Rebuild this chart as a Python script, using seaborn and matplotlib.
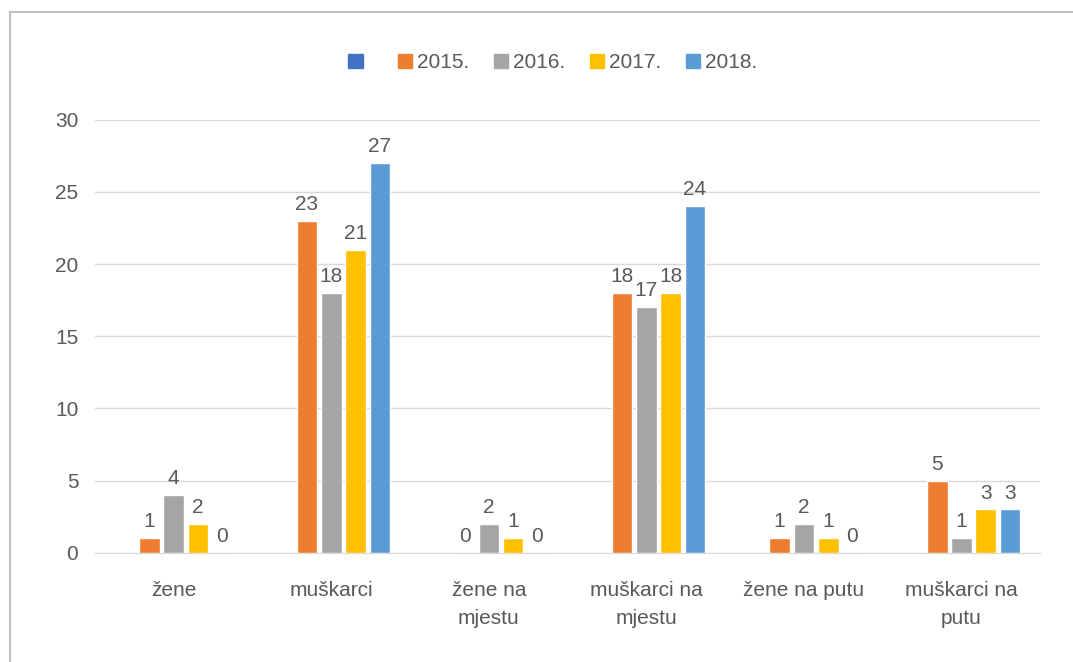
import pandas as pd
import numpy as np
import matplotlib
matplotlib.use("Agg")
import matplotlib.pyplot as plt
from matplotlib.patches import Rectangle
import seaborn as sns

# Podaci s grafikona
kategorije = ["žene", "muškarci", "žene na\nmjestu", "muškarci na\nmjestu",
              "žene na putu", "muškarci na\nputu"]
serije = [" ", "2015.", "2016.", "2017.", "2018."]
prazna = [np.nan, np.nan, np.nan, np.nan, np.nan, np.nan]
god_2015 = [1, 23, 0, 18, 1, 5]
god_2016 = [4, 18, 2, 17, 2, 1]
god_2017 = [2, 21, 1, 18, 1, 3]
god_2018 = [0, 27, 0, 24, 0, 3]
boje = ["#4472C4", "#ED7D31", "#A5A5A5", "#FFC000", "#5B9BD5"]

vrijednosti = [prazna, god_2015, god_2016, god_2017, god_2018]
redovi = []
for s, vals in zip(serije, vrijednosti):
    for k, v in zip(kategorije, vals):
        redovi.append({"kategorija": k, "serija": s, "broj": v})
df = pd.DataFrame(redovi)

sns.set_style("white")
plt.rcParams["font.family"] = ["Liberation Sans", "DejaVu Sans"]
tekst = "#595959"

fig = plt.figure(figsize=(10.73, 6.62), dpi=100)
ax = fig.add_axes([0.0885, 0.165, 0.881, 0.654])

sns.barplot(data=df, x="kategorija", y="broj", hue="serija",
            hue_order=serije, palette=boje, width=0.77, gap=0.15,
            saturation=1, ax=ax, legend=False)

for cont in ax.containers[1:]:
    ax.bar_label(cont, fmt="%g", padding=5, fontsize=15, color=tekst)

ax.set_ylim(0, 30)
ax.set_yticks(range(0, 31, 5))
ax.set_xlim(-0.5, len(kategorije) - 0.5)
ax.grid(axis="y", color="#D9D9D9", linewidth=1)
ax.set_axisbelow(True)
for side in ["top", "right", "left"]:
    ax.spines[side].set_visible(False)
ax.spines["bottom"].set_color("#D9D9D9")
ax.tick_params(axis="both", length=0, labelsize=15, labelcolor=tekst)
ax.tick_params(axis="y", pad=12)
ax.tick_params(axis="x", pad=20)
for lbl in ax.get_xticklabels():
    lbl.set_linespacing(1.6)
ax.set_xlabel("")
ax.set_ylabel("")

ruckice = [Rectangle((0, 0), 1, 1, color=c) for c in boje]
fig.legend(ruckice, serije, loc="center", bbox_to_anchor=(0.515, 0.905),
           ncol=5, frameon=False, fontsize=15, handlelength=0.7,
           handleheight=0.7, handletextpad=0.2, columnspacing=1.2,
           labelcolor=tekst)

# okvir grafikona
fig.patches.append(Rectangle((10 / 1073, -0.05), 1.1, 1.05 - 12 / 662,
                             transform=fig.transFigure, fill=False,
                             edgecolor="#BFBFBF", linewidth=1.5))

fig.savefig("out.png", dpi=100)
